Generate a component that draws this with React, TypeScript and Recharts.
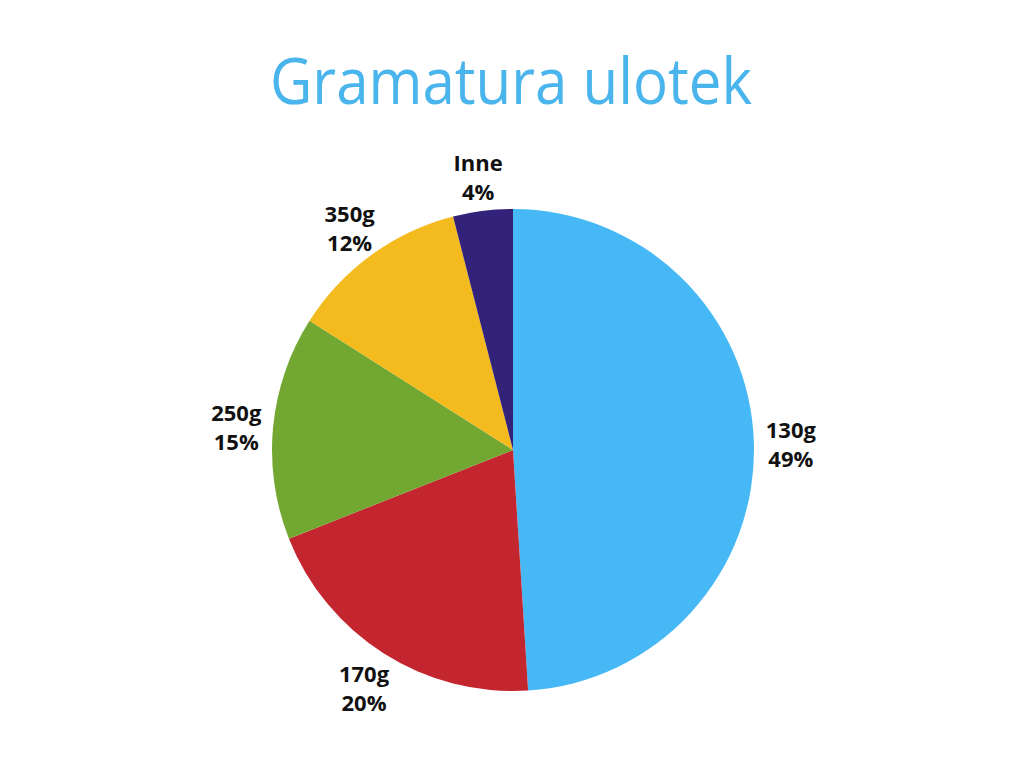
import React from "react";
import { PieChart, Pie, Cell } from "recharts";

const categories = ["130g", "170g", "250g", "350g", "Inne"];
const shares = [49, 20, 15, 12, 4];
const colors = ["#46B8F6", "#C4262F", "#72A832", "#F4BB1F", "#33227A"];
const title = "Gramatura ulotek";

const data = categories.map((name, i) => ({ name, value: shares[i] }));

const RAD = Math.PI / 180;

const renderLabel = (props: any) => {
  const { cx, cy, midAngle, outerRadius, index } = props;
  const r = outerRadius + 37;
  const x = cx + r * Math.cos(-midAngle * RAD);
  const y = cy + r * Math.sin(-midAngle * RAD);
  return (
    <text
      x={x}
      y={y}
      textAnchor="middle"
      fill="#111111"
      fontFamily="'Open Sans', sans-serif"
      fontWeight={700}
      fontSize={22}
    >
      <tspan x={x} y={y - 12} dominantBaseline="central">
        {categories[index]}
      </tspan>
      <tspan x={x} y={y + 17} dominantBaseline="central">
        {shares[index]}%
      </tspan>
    </text>
  );
};

export default function App() {
  return (
    <div
      style={{
        position: "absolute",
        left: 0,
        top: 0,
        width: 1024,
        height: 768,
        background: "#ffffff",
      }}
    >
      <svg
        width={1024}
        height={130}
        style={{ position: "absolute", left: 0, top: 0 }}
      >
        <text
          x={511}
          y={104}
          textAnchor="middle"
          fill="#4AB4EC"
          fontFamily="'Open Sans', sans-serif"
          fontSize={64}
          fontWeight={500}
          textLength={482}
          lengthAdjust="spacingAndGlyphs"
        >
          {title}
        </text>
      </svg>
      <div style={{ position: "absolute", left: 0, top: 0 }}>
        <PieChart
          width={1024}
          height={768}
          margin={{ top: 0, right: 0, bottom: 0, left: 0 }}
        >
          <Pie
            data={data}
            dataKey="value"
            nameKey="name"
            cx={513}
            cy={450}
            outerRadius={241}
            startAngle={90}
            endAngle={-270}
            stroke="none"
            label={renderLabel}
            labelLine={false}
            isAnimationActive={false}
          >
            {data.map((d, i) => (
              <Cell key={d.name} fill={colors[i]} />
            ))}
          </Pie>
        </PieChart>
      </div>
    </div>
  );
}
